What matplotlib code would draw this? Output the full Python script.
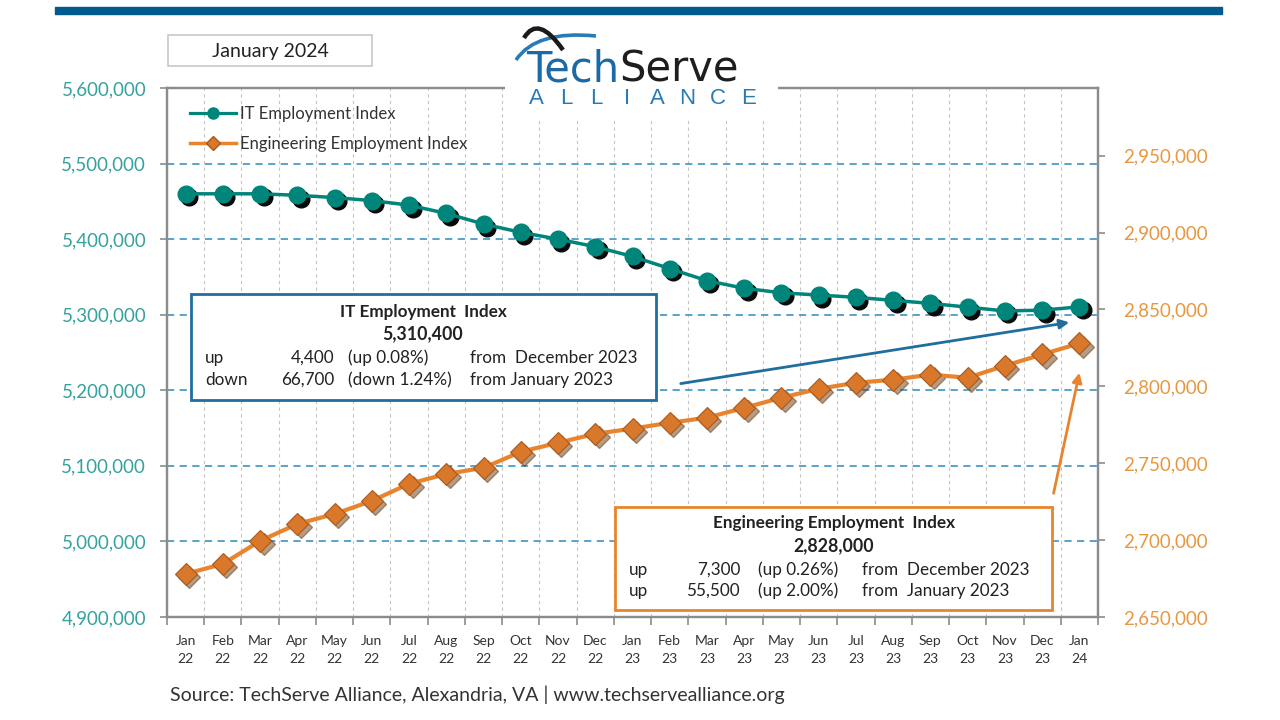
import numpy as np
import matplotlib
matplotlib.use("Agg")
import matplotlib.pyplot as plt
import matplotlib.transforms as mtransforms
from matplotlib.lines import Line2D
from matplotlib.patches import Rectangle, PathPatch, FancyArrowPatch
from matplotlib.path import Path

plt.rcParams['font.family'] = ['Lato', 'DejaVu Sans']

months = ["Jan\n22", "Feb\n22", "Mar\n22", "Apr\n22", "May\n22", "Jun\n22", "Jul\n22",
          "Aug\n22", "Sep\n22", "Oct\n22", "Nov\n22", "Dec\n22", "Jan\n23", "Feb\n23",
          "Mar\n23", "Apr\n23", "May\n23", "Jun\n23", "Jul\n23", "Aug\n23", "Sep\n23",
          "Oct\n23", "Nov\n23", "Dec\n23", "Jan\n24"]

it_index = [5460000, 5460000, 5460000, 5458000, 5455000, 5451000, 5445000, 5434000,
            5420000, 5409000, 5400000, 5390000, 5377100, 5361000, 5345000, 5335000,
            5329000, 5326000, 5323000, 5319000, 5315000, 5310000, 5305000, 5306000,
            5310400]

eng_index = [2678000, 2684500, 2699500, 2710500, 2717000, 2725500, 2736600, 2743000,
             2747000, 2757400, 2763300, 2769100, 2772500, 2776300, 2779600, 2786000,
             2792600, 2798400, 2802300, 2804300, 2807600, 2805600, 2813400, 2820700,
             2828000]

left_ticks = [4900000, 5000000, 5100000, 5200000, 5300000, 5400000, 5500000, 5600000]
right_ticks = [2650000, 2700000, 2750000, 2800000, 2850000, 2900000, 2950000]

TEAL = '#00857a'
TEAL_LBL = '#35a29e'
ORANGE = '#e8842e'
ORANGE_LBL = '#e8973f'
BLUE = '#1f6e9e'
GRID_BLUE = '#4b9cc6'

fig = plt.figure(figsize=(12.8, 7.2), dpi=100)
W, H = 1280, 720

def fx(px):
    return px / W

def fy(py):
    return 1 - py / H

ax = fig.add_axes([fx(167), fy(617), fx(1098) - fx(167), fy(88) - fy(617)])
ax2 = ax.twinx()

x = np.arange(len(months))
ax.set_xlim(-0.5, len(months) - 0.5)
ax.set_ylim(4900000, 5600000)
ax2.set_ylim(2650000, 2994000)

# gridlines
for v in left_ticks[1:-1]:
    ax.axhline(v, color=GRID_BLUE, lw=1.3, ls=(0, (4, 3)), zorder=1)
for b in np.arange(0.5, len(months) - 0.5, 1):
    ax.axvline(b, color='#c4c4c4', lw=0.8, ls=(0, (3, 3)), zorder=0.5)

# shadows
sh = mtransforms.ScaledTranslation(2.5 / 72, -2.5 / 72, fig.dpi_scale_trans)
ax.plot(x, it_index, ls='none', marker='o', ms=12, color='#0a0a0a',
        transform=ax.transData + sh, zorder=2)
ax.plot(x, it_index, color=TEAL, lw=2.5, marker='o', ms=12, mfc=TEAL, mec=TEAL, zorder=3)

ax2.plot(x, eng_index, ls='none', marker='D', ms=11, color='#6b3a10', alpha=0.5,
         transform=ax2.transData + sh, zorder=2)
ax2.plot(x, eng_index, color=ORANGE, lw=3, marker='D', ms=11, mfc='#d9772a',
         mec='#a85a1e', mew=0.8, zorder=3)

# axes styling
for a in (ax, ax2):
    for s in a.spines.values():
        s.set_color('#8c8c8c')
        s.set_linewidth(1.6)

ax.set_yticks(left_ticks)
ax.set_yticklabels([f"{v:,}" for v in left_ticks], color=TEAL_LBL, fontsize=13.5)
ax2.set_yticks(right_ticks)
ax2.set_yticklabels([f"{v:,}" for v in right_ticks], color=ORANGE_LBL, fontsize=13.5)
ax.tick_params(axis='y', direction='out', length=5, color='#8c8c8c', width=1.2, pad=10)
ax2.tick_params(axis='y', direction='out', length=5, color='#8c8c8c', width=1.2, pad=13)

ax.set_xticks(x)
ax.set_xticklabels(months, fontsize=10, color='#333333', linespacing=1.6)
ax.tick_params(axis='x', length=0, pad=13)
ax.set_xticks(np.arange(-0.5, len(months), 1), minor=True)
ax.tick_params(axis='x', which='minor', direction='out', length=6, color='#8c8c8c', width=1.2)

# legend
handles = [Line2D([0], [0], color=TEAL, lw=2.3, marker='o', ms=8, mfc=TEAL, mec=TEAL),
           Line2D([0], [0], color=ORANGE, lw=2.5, marker='D', ms=7, mfc='#d9772a', mec='#a85a1e')]
leg = fig.legend(handles, ["IT Employment Index", "Engineering Employment Index"],
                 loc='upper left', bbox_to_anchor=(fx(183), fy(99)), frameon=False,
                 fontsize=12, handlelength=2.8, handletextpad=0.2, labelspacing=0.85,
                 borderaxespad=0)
for t in leg.get_texts():
    t.set_color('#333333')

# top bar
fig.patches.append(Rectangle((fx(55), fy(14)), fx(1222) - fx(55), 7 / H,
                             transform=fig.transFigure, color='#005b8c', zorder=5))

# January 2024 box
fig.patches.append(Rectangle((fx(168), fy(66)), fx(372) - fx(168), 31 / H,
                             transform=fig.transFigure, fc='white', ec='#c8c8c8', lw=1.2, zorder=5))
fig.text(fx(270), fy(51), "January 2024", ha='center', va='center', fontsize=14,
         color='#222222', zorder=6)

# logo
lax = fig.add_axes([fx(505), fy(118), fx(778) - fx(505), 106 / H])
lax.set_xlim(505, 778)
lax.set_ylim(118, 12)
lax.set_facecolor('white')
lax.set_xticks([])
lax.set_yticks([])
for s in lax.spines.values():
    s.set_visible(False)
logo_font = ['DejaVu Sans']
t1 = lax.text(526, 82, "Tech", fontsize=30, color='#1b6aa5', va='baseline', ha='left',
              family=logo_font)
lax.annotate("Serve", xy=(1, 0), xycoords=t1, va='bottom', ha='left', fontsize=30,
             color='#1e1e1e', family=logo_font)
for i, ch in enumerate("ALLIANCE"):
    lax.text(536 + i * 30.3, 99, ch, fontsize=16, color='#2a7bb5', va='center',
             ha='center', family=['Liberation Sans', 'DejaVu Sans'])
blue_arc = Path([(516, 60), (536, 30), (596, 36)], [Path.MOVETO, Path.CURVE3, Path.CURVE3])
lax.add_patch(PathPatch(blue_arc, fc='none', ec='#2a7bb5', lw=2.6))
black_arc = Path([(524, 38), (538, 14), (563, 50)], [Path.MOVETO, Path.CURVE3, Path.CURVE3])
lax.add_patch(PathPatch(black_arc, fc='none', ec='#1a1a1a', lw=3.2))

fs = 12.3
tfs = 12.3
tc = '#222222'

# IT info box
fig.patches.append(Rectangle((fx(191), fy(400)), fx(656) - fx(191), 106 / H,
                             transform=fig.transFigure, fc='white', ec=BLUE, lw=2, zorder=5))
fig.text(fx(423), fy(312), "IT Employment  Index", ha='center', va='center', fontsize=tfs,
         fontweight='bold', color=tc, zorder=6)
fig.text(fx(423), fy(334), "5,310,400", ha='center', va='center', fontsize=tfs + 0.5,
         fontweight='bold', color=tc, zorder=6)
rows_it = [("up", "4,400", "(up 0.08%)", "from  December 2023"),
           ("down", "66,700", "(down 1.24%)", "from January 2023")]
for i, (a, b, c, d) in enumerate(rows_it):
    yy = fy(358 + i * 22)
    fig.text(fx(205), yy, a, ha='left', va='center', fontsize=fs, color=tc, zorder=6)
    fig.text(fx(334), yy, b, ha='right', va='center', fontsize=fs, color=tc, zorder=6)
    fig.text(fx(348), yy, c, ha='left', va='center', fontsize=fs, color=tc, zorder=6)
    fig.text(fx(470), yy, d, ha='left', va='center', fontsize=fs, color=tc, zorder=6)

fig.add_artist(FancyArrowPatch(
    (fx(678), fy(384)), (fx(1072), fy(322)), transform=fig.transFigure,
    arrowstyle='-|>', mutation_scale=14, color=BLUE, lw=2, zorder=6))

# Engineering info box
fig.patches.append(Rectangle((fx(615), fy(610)), fx(1052) - fx(615), 103 / H,
                             transform=fig.transFigure, fc='white', ec=ORANGE, lw=2, zorder=5))
fig.text(fx(834), fy(523), "Engineering Employment  Index", ha='center', va='center',
         fontsize=tfs, fontweight='bold', color=tc, zorder=6)
fig.text(fx(834), fy(546), "2,828,000", ha='center', va='center', fontsize=tfs + 0.5,
         fontweight='bold', color=tc, zorder=6)
rows_eng = [("up", "7,300", "(up 0.26%)", "from  December 2023"),
            ("up", "55,500", "(up 2.00%)", "from  January 2023")]
for i, (a, b, c, d) in enumerate(rows_eng):
    yy = fy(570 + i * 21)
    fig.text(fx(629), yy, a, ha='left', va='center', fontsize=fs, color=tc, zorder=6)
    fig.text(fx(740), yy, b, ha='right', va='center', fontsize=fs, color=tc, zorder=6)
    fig.text(fx(758), yy, c, ha='left', va='center', fontsize=fs, color=tc, zorder=6)
    fig.text(fx(862), yy, d, ha='left', va='center', fontsize=fs, color=tc, zorder=6)

fig.add_artist(FancyArrowPatch(
    (fx(1053), fy(496)), (fx(1080), fy(370)), transform=fig.transFigure,
    arrowstyle='-|>', mutation_scale=14, color=ORANGE, lw=2, zorder=6))

fig.text(fx(170), fy(695), "Source: TechServe Alliance, Alexandria, VA | www.techservealliance.org",
         ha='left', va='center', fontsize=14, color='#333333')

fig.savefig("out.png", dpi=100, facecolor='white')
